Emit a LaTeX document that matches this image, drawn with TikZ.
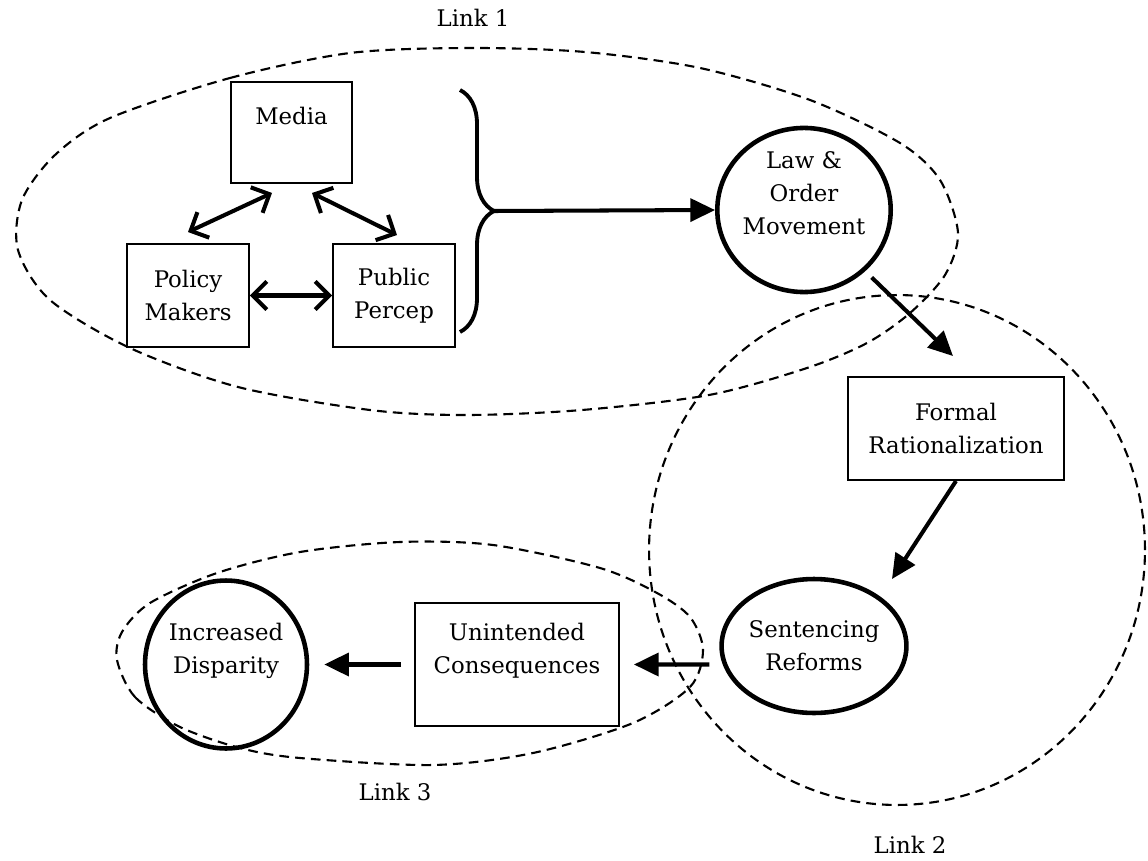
\documentclass[tikz,border=0pt]{standalone}
\usepackage{fontspec}
\setmainfont{DejaVu Serif}
\usetikzlibrary{arrows.meta,shapes.geometric,decorations.pathreplacing}

\tikzset{
  box/.style={draw, line width=1.1pt, rectangle, inner sep=0pt, align=center},
  bubble/.style={draw, line width=2.6pt, ellipse, inner sep=0pt, align=center},
  linkline/.style={line width=1.2pt, dash pattern=on 5.5pt off 3.5pt},
  flow/.style={line width=2.3pt, -{Triangle[length=14pt,width=13pt]}},
  biflow/.style={line width=2.3pt, {Straight Barb[length=8pt,width=16pt]}-{Straight Barb[length=8pt,width=16pt]}},
  linklabel/.style={inner sep=0pt}
}

\begin{document}
\begin{tikzpicture}[x=0.02cm, y=-0.02cm, font=\fontsize{13}{18.8}\selectfont]
\useasboundingbox (0,0) rectangle (1148,861);

% link 1
\draw[linkline] plot[smooth cycle] coordinates {(110,118) (230,78) (350,53) (470,48) (585,52)
  (700,68) (810,100) (900,143) (940,180) (958,233) (945,275) (910,313) (867,343) (807,368)
  (709,395) (582,410) (466,415) (370,410) (238,387) (130,348) (50,300) (18,250) (22,200) (55,155)};
\node[linklabel] (link1) at (473,18) {Link 1};

% link 2
\draw[linkline] (897,550) ellipse [x radius=4.96cm, y radius=5.1cm];
\node[linklabel] (link2) at (910,845) {Link 2};

% link 3
\draw[linkline] plot[smooth cycle] coordinates {(117,660) (135,697) (180,727) (240,748) (300,758)
  (433,765) (533,753) (633,723) (690,687) (703,650) (690,617) (657,593) (600,568) (493,545)
  (400,542) (300,552) (217,573) (150,603) (122,632)};
\node[linklabel] (link3) at (395,792) {Link 3};

\node[box, minimum width=2.42cm, minimum height=2.02cm] (media) at (291.5,132.5) {Media\\~};
\node[box, minimum width=2.44cm, minimum height=2.06cm] (policy) at (188,295.5) {Policy\\Makers};
\node[box, minimum width=2.44cm, minimum height=2.06cm] (public) at (394,295.5) {Public\\Percep};

\draw[biflow] ([xshift=-0.39cm,yshift=-0.18cm]media.south) -- ([yshift=0.22cm]policy.north);
\draw[biflow] ([xshift=0.41cm,yshift=-0.18cm]media.south) -- ([xshift=0.06cm,yshift=0.16cm]public.north);
\draw[biflow] (policy) -- (public);

% brace
\coordinate (bracetop) at (460,90);
\coordinate (bracebot) at (460,332);
\coordinate (bracetip) at (494,211);
\draw[line width=2.2pt, decorate, decoration={brace, amplitude=0.68cm}] (bracetop) -- (bracebot);

\node[bubble, minimum width=3.24cm, minimum height=3.24cm] (law) at (804,210) {Law \&\\Order\\Movement\\~};
\node[box, minimum width=4.32cm, minimum height=2.06cm] (formal) at (956,428.5) {Formal\\Rationalization};
\node[bubble, minimum width=3.68cm, minimum height=2.68cm] (sentencing) at (814,646) {Sentencing\\Reforms};
\node[box, minimum width=4.08cm, minimum height=2.46cm] (unintended) at (517,664.5) {Unintended\\Consequences\\~};
\node[bubble, minimum width=3.24cm, minimum height=3.36cm] (increased) at (226,664.5) {Increased\\Disparity\\~};

\draw[flow] (bracetip) -- (law.west);
\draw[flow, shorten <=0.18cm] (law.-45) -- ([xshift=-0.06cm,yshift=0.4cm]formal.north);
\draw[flow] (formal.south) -- ([xshift=0.22cm,yshift=0.36cm]sentencing.north east);
\draw[flow] ([xshift=-0.2cm,yshift=-0.37cm]sentencing.west) -- ([xshift=0.28cm]unintended.east);
\draw[flow] ([xshift=-0.26cm]unintended.west) -- ([xshift=0.3cm]increased.east);
\end{tikzpicture}
\end{document}
